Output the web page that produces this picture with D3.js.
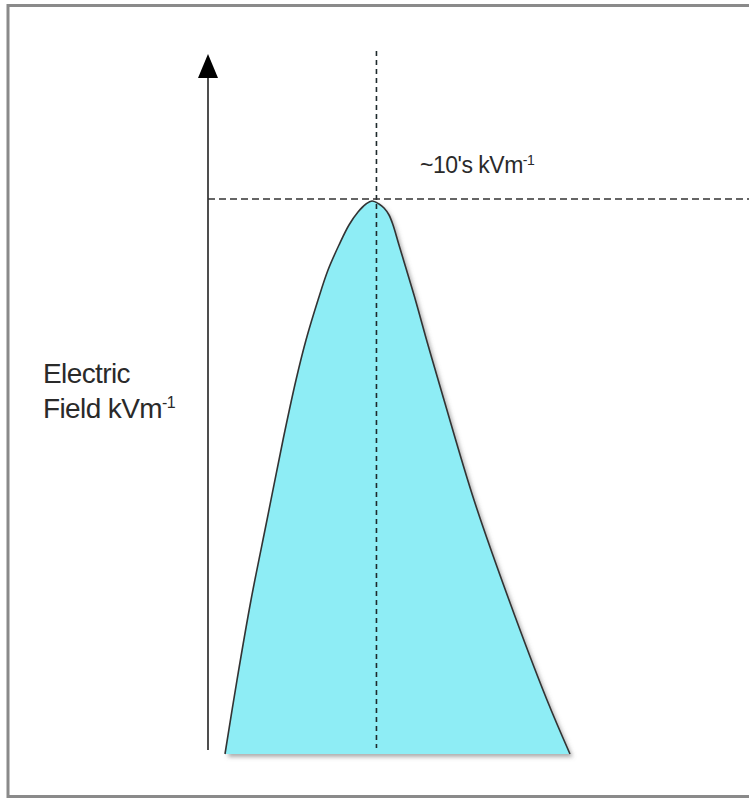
<!DOCTYPE html>
<html>
<head>
<meta charset="utf-8">
<script src="https://cdn.jsdelivr.net/npm/d3@7"></script>
<style>
  html, body { margin: 0; padding: 0; background: #fff; }
  svg { display: block; }
  text { font-family: "Liberation Sans", Arial, sans-serif; fill: #2a2a2a; }
</style>
</head>
<body>
<svg id="chart" width="749" height="799"></svg>
<script>
// Pulse shape outline: time (arbitrary units, 0-100) vs electric field (% of peak)
const pulseTime  = [0, 3.48, 7.54, 12.17, 16.81, 20.58, 23.48, 26.96, 29.86, 33.04, 35.94, 38.55, 40.87, 42.61,
                    44.64, 46.09, 47.54, 48.70, 50.43, 54.78, 58.84, 63.48, 72.17, 82.32, 93.33, 100];
const pulseField = [0, 13.38, 27.85, 42.31, 56.78, 67.63, 74.86, 82.10, 87.52, 92.04, 95.66, 98.01, 99.46, 100,
                    99.46, 98.73, 97.47, 95.66, 92.04, 83.00, 73.96, 64.01, 45.93, 27.85, 9.76, 0];
const peakTime = 43.9;
const peakField = 100;
const peakLabel = "~10's kVm";
const yLabelLines = ["Electric", "Field kVm"];
const superscript = "-1";

const svg = d3.select("#chart");

// frame
svg.append("rect")
  .attr("x", 8).attr("y", 5.5).attr("width", 760).attr("height", 791)
  .attr("fill", "none").attr("stroke", "#8a8a8a").attr("stroke-width", 3);

const x = d3.scaleLinear().domain([0, 100]).range([225, 570]);
const y = d3.scaleLinear().domain([0, 100]).range([754, 201]);

const pts = pulseTime.map((t, i) => ({ t, v: pulseField[i] }));

const defs = svg.append("defs");
const f = defs.append("filter").attr("id", "shadow")
  .attr("x", "-10%").attr("y", "-10%").attr("width", "130%").attr("height", "130%");
f.append("feDropShadow").attr("dx", 3).attr("dy", 3).attr("stdDeviation", 2)
  .attr("flood-color", "#666").attr("flood-opacity", 0.55);

const line = d3.line().x(d => x(d.t)).y(d => y(d.v)).curve(d3.curveCatmullRom.alpha(0.5));
const outline = line(pts);

svg.append("path").attr("d", outline + "Z")
  .attr("fill", "#8eedf5").attr("filter", "url(#shadow)");
svg.append("path").attr("d", outline)
  .attr("fill", "none").attr("stroke", "#333").attr("stroke-width", 1.6);

// vertical axis with arrow
const axisX = 208;
svg.append("line").attr("x1", axisX).attr("x2", axisX).attr("y1", 750).attr("y2", 72)
  .attr("stroke", "#222").attr("stroke-width", 1.6);
svg.append("path")
  .attr("d", `M${axisX},54 L${axisX - 10},78 L${axisX + 10},78 Z`)
  .attr("fill", "#000");

// dashed guide lines
svg.append("line")
  .attr("x1", x(peakTime)).attr("x2", x(peakTime)).attr("y1", 51).attr("y2", 748)
  .attr("stroke", "#1e2a2c").attr("stroke-width", 1.6).attr("stroke-dasharray", "5,4");
svg.append("line")
  .attr("x1", axisX).attr("x2", 749).attr("y1", y(peakField) - 2).attr("y2", y(peakField) - 2)
  .attr("stroke", "#333").attr("stroke-width", 1.6).attr("stroke-dasharray", "7,4");

// peak label
const pl = svg.append("text").attr("x", 420).attr("y", 173)
  .style("font-size", "23px").style("letter-spacing", "-0.5px");
pl.append("tspan").text(peakLabel);
pl.append("tspan").attr("dy", -8).style("font-size", "14px").text(superscript);

// y label
svg.append("text").attr("x", 43).attr("y", 383)
  .style("font-size", "28px").style("letter-spacing", "-0.6px").text(yLabelLines[0]);
const yl = svg.append("text").attr("x", 43).attr("y", 418)
  .style("font-size", "28px").style("letter-spacing", "-0.6px");
yl.append("tspan").text(yLabelLines[1]);
yl.append("tspan").attr("dy", -10).style("font-size", "16px").text(superscript);
</script>
</body>
</html>
